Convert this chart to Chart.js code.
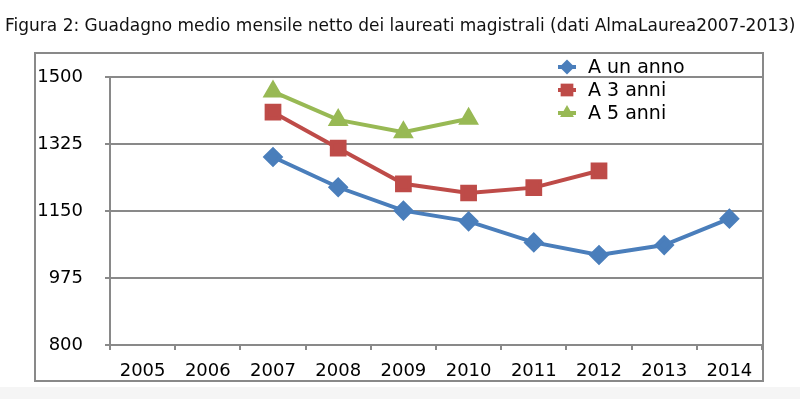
<!DOCTYPE html>
<html>
<head>
<meta charset="utf-8">
<script src="https://cdn.jsdelivr.net/npm/chart.js@4.4.1/dist/chart.umd.min.js"></script>
<style>
html,body{margin:0;padding:0;background:#ffffff;}
#wrap{position:relative;width:800px;height:399px;}
</style>
</head>
<body>
<div id="wrap"><canvas id="c" width="800" height="399"></canvas></div>
<script>
const titleText = "Figura 2: Guadagno medio mensile netto dei laureati magistrali (dati AlmaLaurea2007-2013)";
const years = ["2005","2006","2007","2008","2009","2010","2011","2012","2013","2014"];
const aUnAnno = [null, null, 1291, 1212, 1151, 1123, 1068, 1035, 1061, 1130];
const a3Anni  = [null, null, 1408, 1314, 1221, 1197, 1211, 1255, null, null];
const a5Anni  = [null, null, 1462, 1388, 1356, 1391, null, null, null, null];
const seriesNames = ["A un anno", "A 3 anni", "A 5 anni"];
const yTicks = [800, 975, 1150, 1325, 1500];

const GRID = '#898989';

const decor = {
  id: 'decor',
  beforeDraw(chart) {
    const ctx = chart.ctx;
    ctx.save();
    ctx.fillStyle = '#ffffff';
    ctx.fillRect(0, 0, 800, 399);
    ctx.fillStyle = '#f5f5f5';
    ctx.fillRect(0, 387, 800, 12);
    ctx.strokeStyle = GRID;
    ctx.lineWidth = 2;
    ctx.strokeRect(35, 53, 728, 328);
    ctx.fillStyle = '#111111';
    ctx.font = '17px "DejaVu Sans"';
    ctx.textBaseline = 'middle';
    ctx.textAlign = 'left';
    ctx.fillText(titleText, 5, 27);
    ctx.restore();
  },
  afterDatasetsDraw(chart) {
    const ctx = chart.ctx;
    ctx.save();
    const rows = [67, 90, 113];
    chart.data.datasets.forEach((ds, i) => {
      const cx = 567, cy = rows[i];
      ctx.strokeStyle = ds.borderColor;
      ctx.lineWidth = 4;
      ctx.beginPath();
      ctx.moveTo(cx - 9, cy);
      ctx.lineTo(cx + 9, cy);
      ctx.stroke();
      ctx.fillStyle = ds.pointBackgroundColor;
      ctx.strokeStyle = ds.pointBorderColor;
      Chart.helpers.drawPoint(ctx, {pointStyle: ds.pointStyle, radius: ds.pointRadius, rotation: 0, borderWidth: 0}, cx, cy);
      ctx.fillStyle = '#000000';
      ctx.font = '19px "DejaVu Sans"';
      ctx.textBaseline = 'middle';
      ctx.textAlign = 'left';
      ctx.fillText(ds.label, 588, cy + 1);
    });
    ctx.restore();
  }
};

new Chart(document.getElementById('c'), {
  type: 'line',
  data: {
    labels: years,
    datasets: [
      {label: seriesNames[0], data: aUnAnno, borderColor: '#4a7ebb', backgroundColor: '#4a7ebb',
       pointBackgroundColor: '#4a7ebb', pointBorderColor: '#4a7ebb', pointStyle: 'rectRot', pointRadius: 7.5,
       borderWidth: 4, tension: 0, spanGaps: false},
      {label: seriesNames[1], data: a3Anni, borderColor: '#be4b48', backgroundColor: '#be4b48',
       pointBackgroundColor: '#be4b48', pointBorderColor: '#be4b48', pointStyle: 'rect', pointRadius: 9,
       borderWidth: 4, tension: 0},
      {label: seriesNames[2], data: a5Anni, borderColor: '#98b954', backgroundColor: '#98b954',
       pointBackgroundColor: '#98b954', pointBorderColor: '#98b954', pointStyle: 'triangle', pointRadius: 8,
       borderWidth: 4, tension: 0}
    ]
  },
  options: {
    responsive: false,
    animation: false,
    layout: {padding: {left: 0, right: 38, top: 77, bottom: 19}},
    plugins: {legend: {display: false}, title: {display: false}, tooltip: {enabled: false}},
    elements: {point: {borderWidth: 0, hoverRadius: 0}},
    scales: {
      x: {
        offset: true,
        afterFit(scale) { scale.height = 35; },
        grid: {offset: true, drawOnChartArea: false, drawTicks: true, tickLength: 5, color: GRID, lineWidth: 2},
        border: {display: true, color: GRID, width: 2},
        ticks: {color: '#000000', font: {family: 'DejaVu Sans', size: 18}, padding: 11, maxRotation: 0, autoSkip: false}
      },
      y: {
        min: 800, max: 1500,
        afterBuildTicks(scale) { scale.ticks = yTicks.map(v => ({value: v})); },
        afterFit(scale) { scale.width = 110; },
        grid: {drawTicks: true, tickLength: 5, color: GRID, lineWidth: 2},
        border: {display: true, color: GRID, width: 2},
        ticks: {color: '#000000', font: {family: 'DejaVu Sans', size: 18}, padding: 22,
                callback: (v) => String(v)}
      }
    }
  },
  plugins: [decor]
});
</script>
</body>
</html>
